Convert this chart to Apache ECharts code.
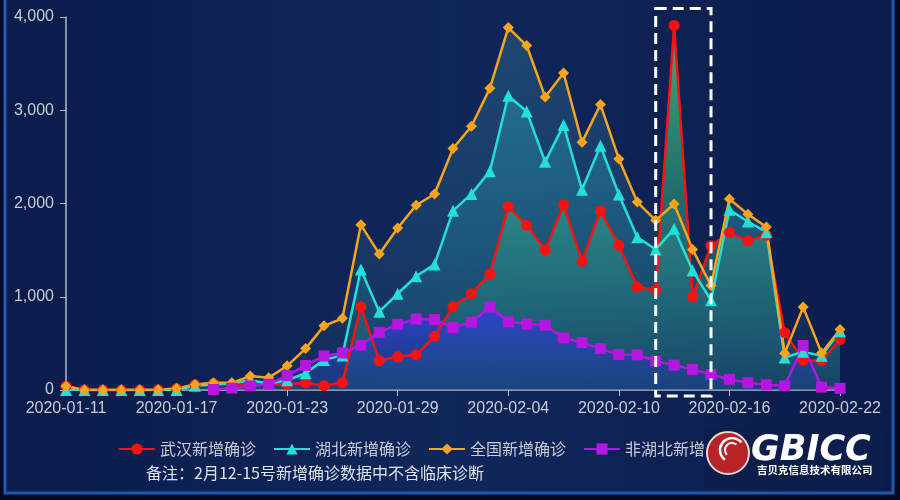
<!DOCTYPE html>
<html>
<head>
<meta charset="utf-8">
<script src="https://cdn.jsdelivr.net/npm/echarts@6/dist/echarts.min.js"></script>
<style>
  html, body { margin:0; padding:0; background:#020a26; }
  #main { width:900px; height:500px; }
</style>
</head>
<body>
<div id="main"></div>
<script>
// 日期
var dates = ['2020-01-11','2020-01-12','2020-01-13','2020-01-14','2020-01-15','2020-01-16','2020-01-17',
  '2020-01-18','2020-01-19','2020-01-20','2020-01-21','2020-01-22','2020-01-23','2020-01-24','2020-01-25',
  '2020-01-26','2020-01-27','2020-01-28','2020-01-29','2020-01-30','2020-01-31','2020-02-01','2020-02-02',
  '2020-02-03','2020-02-04','2020-02-05','2020-02-06','2020-02-07','2020-02-08','2020-02-09','2020-02-10',
  '2020-02-11','2020-02-12','2020-02-13','2020-02-14','2020-02-15','2020-02-16','2020-02-17','2020-02-18',
  '2020-02-19','2020-02-20','2020-02-21','2020-02-22'];
// 武汉新增确诊
var wuhan = [41,0,0,0,0,4,17,55,70,60,62,62,60,77,46,80,892,315,356,378,576,894,1033,1242,1967,1766,1501,1985,1379,1920,1552,1104,1072,3910,1000,1548,1690,1600,1660,615,319,314,541];
// 湖北新增确诊
var hubei = [0,0,0,0,0,0,0,45,60,72,105,69,105,180,323,371,1291,840,1032,1220,1347,1921,2103,2345,3156,2987,2447,2841,2147,2618,2097,1638,1508,1728,1282,962,1933,1807,1693,349,411,366,630];
// 全国新增确诊
var national = [41,0,0,0,0,4,17,59,77,77,149,131,259,444,688,769,1771,1459,1737,1981,2102,2590,2829,3235,3887,3694,3143,3399,2656,3062,2478,2015,1820,1995,1508,1121,2048,1886,1749,394,889,397,648];
// 非湖北新增确诊
var nonHubei = [null,null,null,null,null,null,null,null,5,20,44,62,154,264,365,398,480,619,705,761,755,669,726,890,731,707,696,558,509,444,381,377,312,267,221,166,115,79,56,45,478,31,18];
// y轴刻度
var yTicks = [0, 1000, 2000, 3000, 4000];
// 虚线框标注范围
var boxRange = ['2020-02-12', '2020-02-15'];

var names = ['武汉新增确诊','湖北新增确诊','全国新增确诊','非湖北新增确诊'];
var colors = ['#ff1010','#22e0d8','#f7a51e','#b516e0'];
var symbols = ['circle','triangle','diamond','rect'];
var datas = [wuhan, hubei, national, nonHubei];

function grad(c1, c2){
  return new echarts.graphic.LinearGradient(0,0,0,1,[{offset:0,color:c1},{offset:1,color:c2}]);
}
var areaColors = [
  grad('rgba(70,210,130,0.8)','rgba(40,150,140,0.15)'),
  grad('rgba(40,150,165,0.5)','rgba(40,150,165,0.12)'),
  grad('rgba(45,105,140,0.5)','rgba(45,105,140,0.12)'),
  grad('rgba(48,62,215,0.9)','rgba(35,55,170,0.25)')
];

var chart = echarts.init(document.getElementById('main'));
var series = [];
// 折线
for (var i = 0; i < 4; i++) {
  series.push({
    name: names[i],
    type: 'line',
    data: datas[i],
    z: 3,
    symbol: symbols[i],
    symbolSize: i == 1 ? 12 : 11,
    showAllSymbol: true,
    itemStyle: { color: colors[i] },
    lineStyle: { color: colors[i], width: 2.5 },
    animation: false
  });
}
// 面积（在线下面）
var areaOrder = [2, 1, 0, 3];
areaOrder.forEach(function(i){
  series.push({
    name: names[i],
    type: 'line',
    data: datas[i],
    z: 1,
    silent: true,
    showSymbol: false,
    lineStyle: { width: 0 },
    areaStyle: { color: areaColors[i], opacity: 1 },
    tooltip: { show: false },
    animation: false
  });
});

var bgRect = {
  type: 'rect',
  z: -10,
  shape: { x: 5, y: -10, width: 888, height: 503 },
  style: {
    fill: new echarts.graphic.LinearGradient(0,0,1,0,[
      {offset:0,color:'#0a1c4b'},{offset:0.5,color:'#10275a'},{offset:1,color:'#0a1c4b'}
    ]),
    stroke: '#2159b2',
    lineWidth: 3
  }
};

var option = {
  backgroundColor: '#020a26',
  graphic: { elements: [bgRect] },
  legend: {
    data: names,
    left: 113,
    top: 436,
    itemWidth: 36,
    itemHeight: 14,
    itemGap: 17,
    textStyle: { color: '#c9ccd6', fontSize: 16, fontFamily: 'Noto Sans CJK SC' }
  },
  grid: { left: 66, right: 60, top: 17, bottom: 110 },
  xAxis: {
    type: 'category',
    data: dates,
    boundaryGap: false,
    axisLine: { lineStyle: { color: '#b4b8c2', width: 1.5 } },
    axisTick: { interval: 5, length: 6, lineStyle: { color: '#b4b8c2' } },
    axisLabel: { interval: 5, color: '#c8ccd4', fontSize: 16, margin: 11, fontFamily: 'Liberation Sans' }
  },
  yAxis: {
    type: 'value',
    min: yTicks[0],
    max: yTicks[yTicks.length - 1],
    interval: 1000,
    axisLine: { show: true, lineStyle: { color: '#b4b8c2', width: 1.5 } },
    axisTick: { show: true, length: 6, lineStyle: { color: '#b4b8c2' } },
    splitLine: { show: false },
    axisLabel: { color: '#c8ccd4', fontSize: 16, margin: 12, fontFamily: 'Liberation Sans' }
  },
  series: series
};
chart.setOption(option);

// 虚线框 + 备注 + logo
var p1 = chart.convertToPixel({ gridIndex: 0 }, [boxRange[0], 4090]);
var p2 = chart.convertToPixel({ gridIndex: 0 }, [boxRange[1], -65]);
chart.setOption({
  graphic: {
    elements: [bgRect, {
      type: 'rect',
      z: 20,
      shape: { x: p1[0], y: p1[1], width: p2[0] - p1[0], height: p2[1] - p1[1] },
      style: { fill: 'none', stroke: '#ffffff', lineWidth: 3, lineDash: [11, 6] }
    }, {
      type: 'text',
      z: 20,
      left: 146,
      top: 465,
      style: {
        text: '备注：2月12-15号新增确诊数据中不含临床诊断',
        fill: '#dfe2ea',
        font: '16px "Noto Sans CJK SC"'
      }
    }, {
      type: 'rect',
      z: 30,
      shape: { x: 704, y: 428, width: 180, height: 60 },
      style: { fill: '#0b1e4c' }
    }, {
      type: 'circle',
      z: 31,
      shape: { cx: 728, cy: 453, r: 21 },
      style: { fill: '#b8232a', stroke: '#e8d8d8', lineWidth: 2 }
    }, {
      type: 'arc',
      z: 32,
      shape: { cx: 732, cy: 450, r: 12, startAngle: 2.2, endAngle: 5.6 },
      style: { fill: 'none', stroke: '#ffffff', lineWidth: 2.5 }
    }, {
      type: 'arc',
      z: 32,
      shape: { cx: 732, cy: 450, r: 7, startAngle: 2.4, endAngle: 5.4 },
      style: { fill: 'none', stroke: '#ffffff', lineWidth: 2 }
    }, {
      type: 'text',
      z: 32,
      left: 751,
      top: 433,
      style: {
        text: 'GBICC',
        fill: '#ffffff',
        font: 'italic bold 35px "DejaVu Sans"'
      }
    }, {
      type: 'text',
      z: 32,
      left: 757,
      top: 465,
      style: {
        text: '吉贝克信息技术有限公司',
        fill: '#ffffff',
        font: 'bold 10.5px "Noto Sans CJK SC"'
      }
    }]
  }
});
</script>
</body>
</html>
